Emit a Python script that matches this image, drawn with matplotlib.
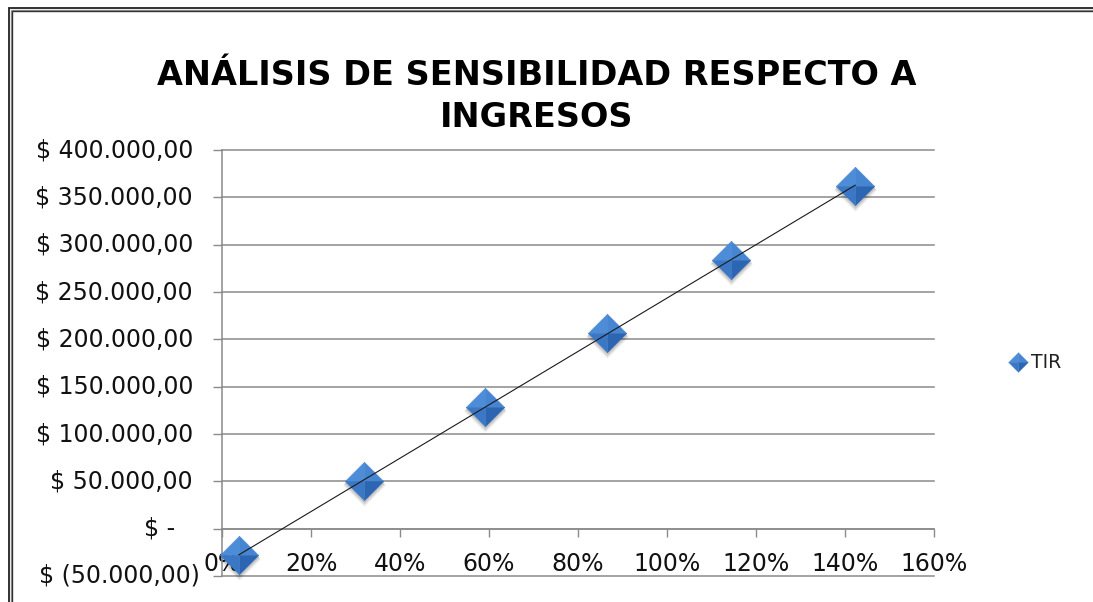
import numpy as np
import matplotlib
matplotlib.use("Agg")
import matplotlib.pyplot as plt
from matplotlib.path import Path
from matplotlib.lines import Line2D
import matplotlib.transforms as mtransforms

# Revenue variation (%) vs. resulting value
variacion_ingresos = [0.038, 0.319, 0.591, 0.865, 1.143, 1.423]
tir = [-27500, 50800, 128000, 207000, 284300, 361900]
serie = "TIR"
titulo = "ANÁLISIS DE SENSIBILIDAD RESPECTO A\nINGRESOS"
x_ticks = [0.0, 0.2, 0.4, 0.6, 0.8, 1.0, 1.2, 1.4, 1.6]
y_ticks = [-50000, 0, 50000, 100000, 150000, 200000, 250000, 300000, 350000, 400000]

W, H = 1093, 602
fig = plt.figure(figsize=(W / 100, H / 100), dpi=100)
ax = fig.add_axes([222 / W, 1 - 576 / H, (934 - 222) / W, (576 - 150) / H])

TICK_FONT = dict(family="DejaVu Sans", size=17.0, color="#111111")
GRID = "#8a8a8a"


def moneda(v):
    if v == 0:
        return "$ -"
    s = f"{abs(v):,.2f}".replace(",", "#").replace(".", ",").replace("#", ".")
    return f"$ ({s})" if v < 0 else f"$ {s}"


ax.set_xlim(x_ticks[0], x_ticks[-1])
ax.set_ylim(y_ticks[0], y_ticks[-1])

# horizontal gridlines
for v in y_ticks:
    ax.axhline(v, color=GRID, lw=1.1, zorder=0, clip_on=False)

for s in ("top", "right"):
    ax.spines[s].set_visible(False)
ax.spines["bottom"].set_position(("data", 0))
ax.spines["bottom"].set_color(GRID)
ax.spines["left"].set_color(GRID)
ax.spines["bottom"].set_linewidth(1.1)
ax.spines["left"].set_linewidth(1.1)

ax.set_xticks(x_ticks)
ax.set_xticklabels([f"{t:.0%}" for t in x_ticks], fontdict=TICK_FONT)
ax.tick_params(axis="x", direction="out", length=6, width=1.0, color=GRID, pad=11)
ax.set_yticks(y_ticks)
ax.set_yticklabels([])
ax.tick_params(axis="y", direction="out", length=6.5, width=1.0, color=GRID)

# accounting-style y labels, right-aligned with format padding
ytrans = ax.get_yaxis_transform()
for v in y_ticks:
    if v < 0:
        dx = -22
    elif v == 0:
        dx = -47
    else:
        dx = -29
    tr = mtransforms.offset_copy(ytrans, fig=fig, x=dx, y=0, units="dots")
    ax.text(0, v, moneda(v), transform=tr, ha="right", va="center",
            fontdict=TICK_FONT, clip_on=False)

# bevelled diamond marker built from four facets
facets = {
    "tl": [(-1, 0), (0, 1), (0, 0), (-1, 0)],
    "tr": [(0, 1), (1, 0), (0, 0), (0, 1)],
    "br": [(1, 0), (0, -1), (0, 0), (1, 0)],
    "bl": [(0, -1), (-1, 0), (0, 0), (0, -1)],
}
facet_colors = {"tl": "#4d8cd7", "tr": "#4585d2", "br": "#2c66b2", "bl": "#3a78c6"}
diamond = Path([(0, 1), (1, 0), (0, -1), (-1, 0), (0, 1)])


def draw_marker(axes_or_fig, x, y, ms, transform, shadow=True):
    if shadow:
        for k, (dy, a) in enumerate([(-4, 0.06), (-3, 0.08), (-2, 0.10)]):
            tr = mtransforms.offset_copy(transform, fig=fig, x=0, y=dy, units="dots")
            axes_or_fig.add_artist(Line2D(x, y, ls="none", marker=diamond, ms=ms + 3 - k,
                                          mfc="#000000", mec="none", alpha=a,
                                          transform=tr, zorder=2, clip_on=False))
    for key, verts in facets.items():
        axes_or_fig.add_artist(Line2D(x, y, ls="none", marker=Path(verts), ms=ms,
                                      mfc=facet_colors[key], mec=facet_colors[key], mew=0.3,
                                      transform=transform, zorder=3, clip_on=False))


draw_marker(ax, variacion_ingresos, tir, 27.8, ax.transData)

# linear trend line
coef = np.polyfit(variacion_ingresos, tir, 1)
xs = np.array([variacion_ingresos[0], variacion_ingresos[-1]])
ax.plot(xs, np.polyval(coef, xs), color="#1a1a1a", lw=0.8, zorder=4, clip_on=False)

# legend entry
draw_marker(fig, [1018 / W], [1 - 362 / H], 14.0, fig.transFigure, shadow=False)
fig.text(1031 / W, 1 - 362 / H, serie, ha="left", va="center",
         family="DejaVu Sans", size=13.5, color="#222222")

# title
lines = titulo.split("\n")
baselines = [85, 127]
for line, yb in zip(lines, baselines):
    fig.text(537 / W, 1 - yb / H, line, ha="center", va="baseline",
             family="DejaVu Sans", weight="bold", size=24.1, color="#000000")


# chart frame (double line on top and left)
def frame(off, color, lw):
    fig.add_artist(Line2D([off / W, off / W, 1.0], [0.0, 1 - (off - 1) / H, 1 - (off - 1) / H],
                          transform=fig.transFigure, color=color, lw=lw,
                          solid_joinstyle="miter"))


frame(9, "#222222", 1.3)
frame(10.5, "#9a9a9a", 1.0)
frame(12, "#333333", 1.0)

fig.savefig("out.png", dpi=100)
